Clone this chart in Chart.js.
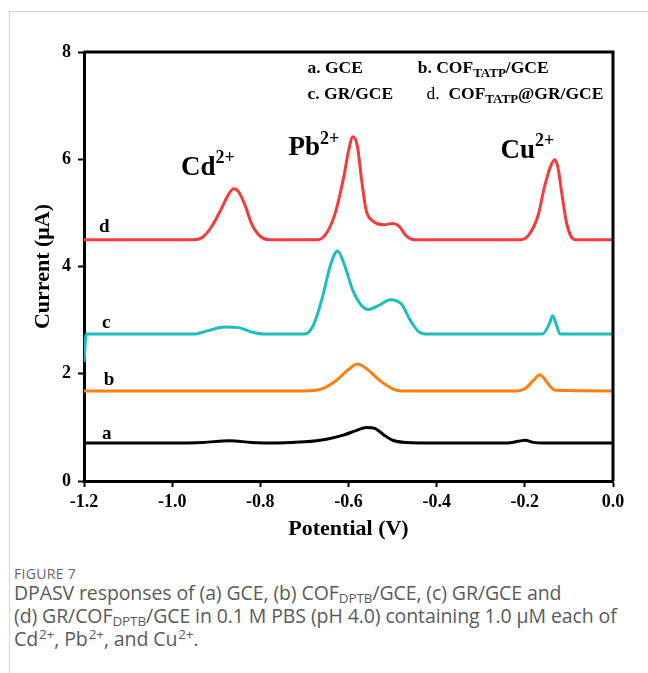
<!DOCTYPE html>
<html>
<head>
<meta charset="utf-8">
<script src="https://cdn.jsdelivr.net/npm/chart.js@4.4.0/dist/chart.umd.min.js"></script>
<style>
  body { margin: 0; background: #fff; width: 648px; height: 673px; overflow: hidden; position: relative; }
  .card-top { position: absolute; left: 8px; top: 11px; width: 640px; height: 1px; background: #d6d6d6; }
  .card-left { position: absolute; left: 9px; top: 11px; width: 1px; height: 662px; background: #d6d6d6; }
  #chart-box { position: absolute; left: 0; top: 0; width: 648px; height: 543px; }
  .caption { position: absolute; left: 14px; color: #5a5a5a; font-family: "Open Sans", sans-serif; }
  .fig-no { top: 564px; font-size: 14px; letter-spacing: 0.3px; color: #666; }
  .fig-text { top: 581px; font-size: 19.5px; line-height: 23px; letter-spacing: -0.1px; }
  .fig-text sub, .fig-text sup { font-size: 13.5px; line-height: 0; }
  .fig-text sub { vertical-align: -3px; }
  .fig-text sup { vertical-align: 7px; margin-left: 1px; }
</style>
</head>
<body>
<div class="card-top"></div>
<div class="card-left"></div>
<div id="chart-box"><canvas id="dpasv" width="648" height="543"></canvas></div>
<div class="caption fig-no">FIGURE 7</div>
<div class="caption fig-text">DPASV responses of (a) GCE, (b) COF<sub>DPTB</sub>/GCE, (c) GR/GCE and<br>(d) GR/COF<sub>DPTB</sub>/GCE in 0.1 M PBS (pH 4.0) containing 1.0 μM each of<br>Cd<sup>2+</sup>, Pb<sup>2+</sup>, and Cu<sup>2+</sup>.</div>
<script>
// curve a: GCE
const potentialA = [-1.2, -1.0, -0.93, -0.87, -0.82, -0.76, -0.70, -0.65, -0.61, -0.58, -0.56, -0.54, -0.52, -0.50, -0.47, -0.40, -0.24, -0.215, -0.20, -0.18, -0.16, 0.0];
const currentA   = [0.71, 0.71, 0.72, 0.75, 0.72, 0.71, 0.73, 0.78, 0.86, 0.95, 1.00, 0.98, 0.86, 0.76, 0.72, 0.71, 0.71, 0.74, 0.76, 0.72, 0.71, 0.71];

// curve b: COF/GCE
const potentialB = [-1.2, -0.70, -0.66, -0.63, -0.60, -0.58, -0.56, -0.53, -0.50, -0.48, -0.22, -0.20, -0.18, -0.166, -0.155, -0.14, -0.13, 0.0];
const currentB   = [1.68, 1.68, 1.72, 1.86, 2.08, 2.18, 2.10, 1.88, 1.72, 1.68, 1.68, 1.72, 1.88, 1.98, 1.90, 1.74, 1.69, 1.68];

// curve c: GR/GCE
const potentialC = [-1.2, -1.195, -0.95, -0.92, -0.88, -0.85, -0.82, -0.79, -0.70, -0.68, -0.66, -0.64, -0.625, -0.61, -0.59, -0.57, -0.555, -0.53, -0.505, -0.48, -0.46, -0.44, -0.42, -0.16, -0.145, -0.137, -0.128, -0.12, 0.0];
const currentC   = [2.22, 2.74, 2.74, 2.80, 2.87, 2.86, 2.78, 2.74, 2.74, 2.90, 3.40, 4.05, 4.29, 4.05, 3.55, 3.27, 3.20, 3.28, 3.38, 3.30, 3.00, 2.78, 2.74, 2.74, 2.92, 3.08, 2.90, 2.74, 2.74];

// curve d: COF@GR/GCE
const potentialD = [-1.2, -0.95, -0.93, -0.91, -0.89, -0.875, -0.861, -0.85, -0.835, -0.82, -0.80, -0.78, -0.67, -0.65, -0.63, -0.61, -0.60, -0.59, -0.58, -0.57, -0.56, -0.545, -0.52, -0.50, -0.485, -0.47, -0.45, -0.21, -0.19, -0.17, -0.155, -0.14, -0.132, -0.125, -0.115, -0.105, -0.095, -0.085, 0.0];
const currentD   = [4.50, 4.50, 4.55, 4.75, 5.05, 5.30, 5.45, 5.40, 5.15, 4.80, 4.56, 4.50, 4.50, 4.62, 5.00, 5.70, 6.15, 6.42, 6.25, 5.60, 5.05, 4.85, 4.78, 4.80, 4.75, 4.58, 4.50, 4.50, 4.60, 4.95, 5.50, 5.90, 5.99, 5.85, 5.30, 4.80, 4.56, 4.50, 4.50];

const xTicks = [-1.2, -1.0, -0.8, -0.6, -0.4, -0.2, 0.0];
const yTicks = [0, 2, 4, 6, 8];

const toPoints = (xs, ys) => xs.map((x, i) => ({ x: x, y: ys[i] }));

const serif = "'Liberation Serif', 'Times New Roman', serif";

// text drawn over the plot: [x, y] in axis units, then runs of text
// run kinds: "b" bold, "r" regular, "sup", "sub"
const notes = [
  { at: [-0.980, 5.71], size: 27, runs: [["Cd", "b"], ["2+", "sup"]] },
  { at: [-0.736, 6.08], size: 27, runs: [["Pb", "b"], ["2+", "sup"]] },
  { at: [-0.255, 6.03], size: 27, runs: [["Cu", "b"], ["2+", "sup"]] },
  { at: [-0.693, 7.61], size: 17.5, runs: [["a. GCE", "b"]] },
  { at: [-0.443, 7.61], size: 17.5, runs: [["b. COF", "b"], ["TATP", "sub"], ["/GCE", "b"]] },
  { at: [-0.693, 7.13], size: 17.5, runs: [["c. GR/GCE", "b"]] },
  { at: [-0.423, 7.13], size: 17.5, runs: [["d.  ", "r"], ["COF", "b"], ["TATP", "sub"], ["@GR/GCE", "b"]] },
  { at: [-1.159, 0.78], size: 19, runs: [["a", "b"]] },
  { at: [-1.155, 1.79], size: 19, runs: [["b", "b"]] },
  { at: [-1.159, 2.85], size: 19, runs: [["c", "b"]] },
  { at: [-1.166, 4.65], size: 19, runs: [["d", "b"]] },
];

const frame = {
  id: "frame",
  afterDraw(chart) {
    const { ctx, chartArea: a } = chart;
    ctx.save();
    ctx.strokeStyle = "#000";
    ctx.lineWidth = 3;
    ctx.beginPath();
    ctx.moveTo(a.left, a.top);
    ctx.lineTo(a.right, a.top);
    ctx.lineTo(a.right, a.bottom);
    ctx.stroke();
    ctx.restore();
  },
};

const noteText = {
  id: "noteText",
  afterDatasetsDraw(chart) {
    const ctx = chart.ctx;
    const sx = chart.scales.x, sy = chart.scales.y;
    ctx.save();
    ctx.fillStyle = "#000";
    ctx.textBaseline = "alphabetic";
    notes.forEach((n) => {
      let x = sx.getPixelForValue(n.at[0]);
      const y = sy.getPixelForValue(n.at[1]);
      n.runs.forEach(([t, kind]) => {
        let size = n.size, dy = 0, weight = "bold";
        if (kind === "r") weight = "normal";
        if (kind === "sup") { size = Math.round(n.size * 0.66); dy = -n.size * 0.42; }
        if (kind === "sub") { size = Math.round(n.size * 0.76); dy = n.size * 0.25; }
        ctx.font = weight + " " + size + "px " + serif;
        ctx.fillText(t, x, y + dy);
        x += ctx.measureText(t).width;
      });
    });
    ctx.restore();
  },
};

const tickFont = { family: serif, weight: "bold", size: 18 };
const titleFont = { family: serif, weight: "bold", size: 22 };

new Chart(document.getElementById("dpasv"), {
  type: "line",
  data: {
    datasets: [
      { label: "a", data: toPoints(potentialA, currentA), borderColor: "#000000" },
      { label: "b", data: toPoints(potentialB, currentB), borderColor: "#ff7f0e" },
      { label: "c", data: toPoints(potentialC, currentC), borderColor: "#1cbfbf" },
      { label: "d", data: toPoints(potentialD, currentD), borderColor: "#f53b3b" },
    ],
  },
  options: {
    responsive: false,
    animation: false,
    layout: { padding: { top: 52, right: 35, left: 30, bottom: 0 } },
    elements: {
      point: { radius: 0 },
      line: { borderWidth: 3, cubicInterpolationMode: "monotone" },
    },
    plugins: { legend: { display: false }, tooltip: { enabled: false } },
    scales: {
      x: {
        type: "linear",
        min: -1.2,
        max: 0,
        afterBuildTicks: (s) => { s.ticks = xTicks.map((v) => ({ value: v })); },
        ticks: { callback: (v) => Number(v).toFixed(1), font: tickFont, color: "#000", padding: 5, maxRotation: 0 },
        grid: { drawOnChartArea: false, tickLength: 6, tickWidth: 2, tickColor: "#000" },
        border: { color: "#000", width: 3 },
        title: { display: true, text: "Potential (V)", font: titleFont, color: "#000", padding: { top: 0, bottom: 0 } },
        afterFit: (s) => { s.height = 62; },
      },
      y: {
        min: 0,
        max: 8,
        afterBuildTicks: (s) => { s.ticks = yTicks.map((v) => ({ value: v })); },
        ticks: { font: tickFont, color: "#000", padding: 7 },
        grid: { drawOnChartArea: false, tickLength: 6, tickWidth: 2, tickColor: "#000" },
        border: { color: "#000", width: 3 },
        title: { display: true, text: "Current (μA)", font: titleFont, color: "#000", padding: { top: 0, bottom: 0 } },
        afterFit: (s) => { s.width = 54; },
      },
    },
  },
  plugins: [frame, noteText],
});
</script>
</body>
</html>
